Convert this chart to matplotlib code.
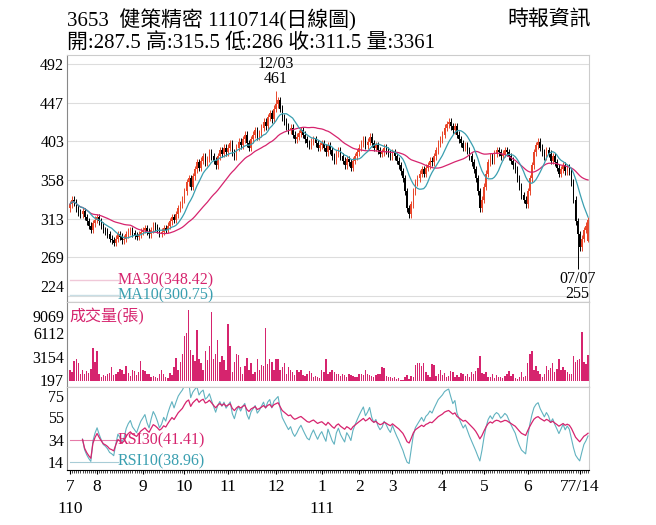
import matplotlib
matplotlib.use('Agg')
import matplotlib.pyplot as plt
import numpy as np
import pandas as pd

plt.rcParams['font.family'] = ['Liberation Serif', 'Noto Sans CJK TC']

closes = [330, 335, 332, 325, 320, 318, 322, 315, 310, 305, 300, 308, 312,
          315, 310, 305, 300, 298, 295, 290, 288, 285, 290, 295, 292, 288, 290, 295, 298, 300, 296, 294, 292, 295, 298,
          300, 302, 298, 295, 300, 305, 303, 300, 296, 298, 302, 300, 305, 310, 315, 312, 318, 325, 330, 335,
          345, 355, 360, 350, 362, 370, 378, 372, 380, 385, 378, 382, 390, 385, 380, 375, 385, 392, 388, 395, 390,
          395, 400, 390, 385, 395, 402, 398, 405, 410, 400, 395, 405, 410, 415, 408, 412, 418, 425, 420, 430, 435, 428, 440,
          445, 450, 440, 430, 425, 420, 415, 418, 410, 405, 408, 412, 415, 410, 405, 400, 398, 402, 405, 400, 395, 398,
          400, 395, 390, 398, 392, 385, 380, 388, 392, 385, 380, 375, 382, 378, 372, 380, 385, 390,
          395, 400, 405, 398, 402, 408, 400, 395, 398, 392, 388, 390, 395, 392, 388, 385,
          390, 385, 380, 375, 368, 360, 345, 325, 318, 330, 345, 355, 360, 365, 370, 365, 372, 375, 380, 378, 385, 392, 400, 405,
          410, 418, 422, 425, 420, 415, 420, 410, 405, 400, 395, 398, 392, 385, 378, 370, 360, 345, 325, 335,
          350, 365, 378, 385, 380, 388, 392, 390, 385, 388, 392, 390, 385, 380, 375, 370, 360, 350, 340, 335, 330,
          345, 360, 375, 390, 398, 402, 395, 390, 385, 392, 388, 380, 385, 378, 372, 365, 370, 375, 368, 372, 368,
          355, 335, 310, 295, 280, 290, 300, 305, 311.5]
volumes = [1500, 1200, 2600, 2800, 2400, 1000, 1400, 900, 1300, 1100, 1600, 4300, 2500,
           3900, 900, 600, 800, 700, 900, 1100, 1800, 800, 1000, 1200, 1600, 1400, 900, 2000, 1100, 700, 1400, 1300, 800, 1200, 2600,
           1400, 1300, 1000, 900, 600, 700, 500, 400, 1000, 1500, 900, 600, 400, 1100, 800, 1800, 3000, 1500, 2500, 3500,
           5800, 6200, 9069, 4000, 3300, 2600, 6500, 2800, 2300, 1500, 3800, 2700, 4500, 8800, 2800, 3500, 5200, 2500, 3200, 2700, 1500,
           7300, 4500, 1200, 2500, 3500, 3400, 1800, 1000, 2000, 3000, 1400, 2400, 1000, 1200, 2900, 1500, 2100, 2000, 6800, 2200, 2800, 2500, 1400,
           2800, 2800, 1500, 1800, 2300, 1000, 1800, 1400, 1200, 800, 1500, 1200, 1500, 800, 700, 900, 1300, 1100, 600, 700, 500, 400,
           1400, 1200, 2800, 900, 1200, 1400, 1200, 900, 1000, 700, 1000, 800, 600, 900, 800, 700, 600, 500,
           1000, 900, 800, 1500, 1000, 800, 700, 600, 800, 1000, 900, 1800, 1700, 700, 500, 600,
           400, 500, 300, 400, 200, 200, 600, 800, 300, 700, 500, 2100, 2300, 2400, 1900, 2300, 1200, 800, 600, 2200, 2100, 700, 900, 1400,
           800, 1100, 600, 700, 1300, 1200, 500, 800, 600, 1100, 1000, 700, 900, 500, 1200, 900, 1300, 1700, 3200, 1100,
           900, 1200, 600, 500, 1000, 400, 800, 600, 500, 400, 700, 900, 1300, 700, 900, 400, 300, 600, 1200, 500, 700,
           2300, 3500, 3800, 1500, 2000, 1300, 900, 500, 1000, 1900, 1400, 1700, 2300, 1200, 1600, 2800, 1500, 1800, 1400, 1200, 900,
           1000, 3200, 2500, 2700, 2800, 6300, 2500, 2200, 3361]
first_open = 325
peak_idx, peak_high = 99, 461
trough_idx, trough_low = 244, 255
last_open, last_high, last_low = 287.5, 315.5, 286

month_idx = [0, 13, 35, 55, 76, 99, 121, 139, 155, 179, 199, 220, 245]
month_lbl = ['7', '8', '9', '10', '11', '12', '1', '2', '3', '4', '5', '6', '77/14']
price_ticks = [224, 269, 313, 358, 403, 447, 492]
vol_ticks = [197, 3154, 6112, 9069]
rsi_ticks = [14, 34, 55, 75]

c = np.array(closes, float)
n = len(c)
o = np.concatenate([[first_open], c[:-1]])
o[-1] = last_open
hi = np.maximum(o, c) + 4
lo = np.minimum(o, c) - 4
hi[peak_idx] = peak_high
lo[trough_idx] = trough_low
hi[-1], lo[-1] = last_high, last_low
x = np.arange(n)

s = pd.Series(c)
ma30 = s.rolling(30, min_periods=1).mean()
ma10 = s.rolling(10, min_periods=1).mean()


def rsi(series, p):
    d = series.diff()
    up = d.clip(lower=0).ewm(alpha=1 / p, min_periods=6).mean()
    dn = (-d.clip(upper=0)).ewm(alpha=1 / p, min_periods=6).mean()
    return 100 * up / (up + dn + 1e-9)


rsi30 = rsi(s, 30)
rsi10 = rsi(s, 10)

MAG = '#d6246e'
TEAL = '#3a9fb0'
UP = '#e8462a'
FS = 11.5

fig = plt.figure(figsize=(6.56, 5.25), dpi=100)
L, W = 0.102, 0.796
ax1 = fig.add_axes([L, 0.425, W, 0.470])
ax2 = fig.add_axes([L, 0.263, W, 0.162], sharex=ax1)
ax3 = fig.add_axes([L, 0.105, W, 0.158], sharex=ax1)

# candles
for i in range(n):
    col = UP if c[i] >= o[i] else 'black'
    ax1.vlines(x[i], lo[i], hi[i], color=col, lw=0.7)
    ax1.bar(x[i], max(abs(c[i] - o[i]), 0.8), bottom=min(o[i], c[i]), width=0.7, color=col, lw=0)
ax1.plot(x, ma30, color=MAG, lw=0.9)
ax1.plot(x, ma10, color=TEAL, lw=0.9)
ax1.set_ylim(217, 502)
ax1.set_yticks(price_ticks)
for t in price_ticks:
    ax1.axhline(t, color='#dddddd', lw=0.8, zorder=0)
ax1.text(peak_idx, peak_high + 4, '12/03\n461', ha='center', va='bottom', fontsize=FS, linespacing=0.95)
ax1.text(trough_idx, trough_low - 2, '07/07\n255', ha='center', va='top', fontsize=FS, linespacing=0.95)
ax1.plot([0, 23], [242, 242], color='#f0c8d8', lw=1)
ax1.text(23, 242, 'MA30(348.42)', color=MAG, fontsize=FS, va='center')
ax1.plot([0, 23], [225, 225], color='#c8dde4', lw=1)
ax1.text(23, 225, 'MA10(300.75)', color=TEAL, fontsize=FS, va='center')

# volume
ax2.bar(x, volumes, width=0.7, color=MAG, lw=0)
ax2.set_ylim(-700, 10100)
ax2.set_yticks(vol_ticks)
ax2.text(0.005, 0.93, '成交量(張)', transform=ax2.transAxes, color=MAG, fontsize=FS, va='top')

# rsi
ax3.plot(x, rsi10, color=TEAL, lw=0.8, alpha=0.8)
ax3.plot(x, rsi30, color=MAG, lw=0.9)
ax3.set_ylim(6.6, 83)
ax3.set_yticks(rsi_ticks)
ax3.plot([0, 23], [34, 34], color=MAG, lw=0.8, alpha=0.6)
ax3.text(23, 34, 'RSI30(41.41)', color=MAG, fontsize=FS, va='center')
ax3.plot([0, 23], [14, 14], color='#a8ccd6', lw=0.8)
ax3.text(23, 14, 'RSI10(38.96)', color=TEAL, fontsize=FS, va='center')

ax3.set_xlim(-1.5, n - 0.5)
ax3.set_xticks(month_idx)
ax3.set_xticklabels(month_lbl, fontsize=12.5)
ax3.set_xticks(x, minor=True)
ax3.tick_params(axis='x', which='minor', length=2, width=0.5)
ax3.tick_params(axis='x', which='major', length=3)
ax3.text(0, -0.37, '110', transform=ax3.get_xaxis_transform(), ha='center', va='top', fontsize=12.5)
ax3.text(month_idx[6], -0.37, '111', transform=ax3.get_xaxis_transform(), ha='center', va='top', fontsize=12.5)

for ax in (ax1, ax2):
    ax.tick_params(axis='x', labelbottom=False, length=0)
for ax in (ax1, ax2, ax3):
    ax.tick_params(axis='y', labelsize=FS, length=0, pad=2)
    for sp in ('top', 'right'):
        ax.spines[sp].set_color('#cccccc')
    ax.spines['left'].set_color('#888888')
ax1.spines['bottom'].set_color('#555555')
ax2.spines['bottom'].set_color('#555555')
ax1.get_yticklabels()[0].set_va('bottom')
ax2.get_yticklabels()[-1].set_va('top')

fig.text(0.102, 0.962, '3653  健策精密 1110714(日線圖)', fontsize=15, va='center')
fig.text(0.102, 0.918, '開:287.5 高:315.5 低:286 收:311.5 量:3361', fontsize=15, va='center')
fig.text(0.90, 0.962, '時報資訊', fontsize=15, va='center', ha='right')

fig.savefig('out.png', dpi=100)
